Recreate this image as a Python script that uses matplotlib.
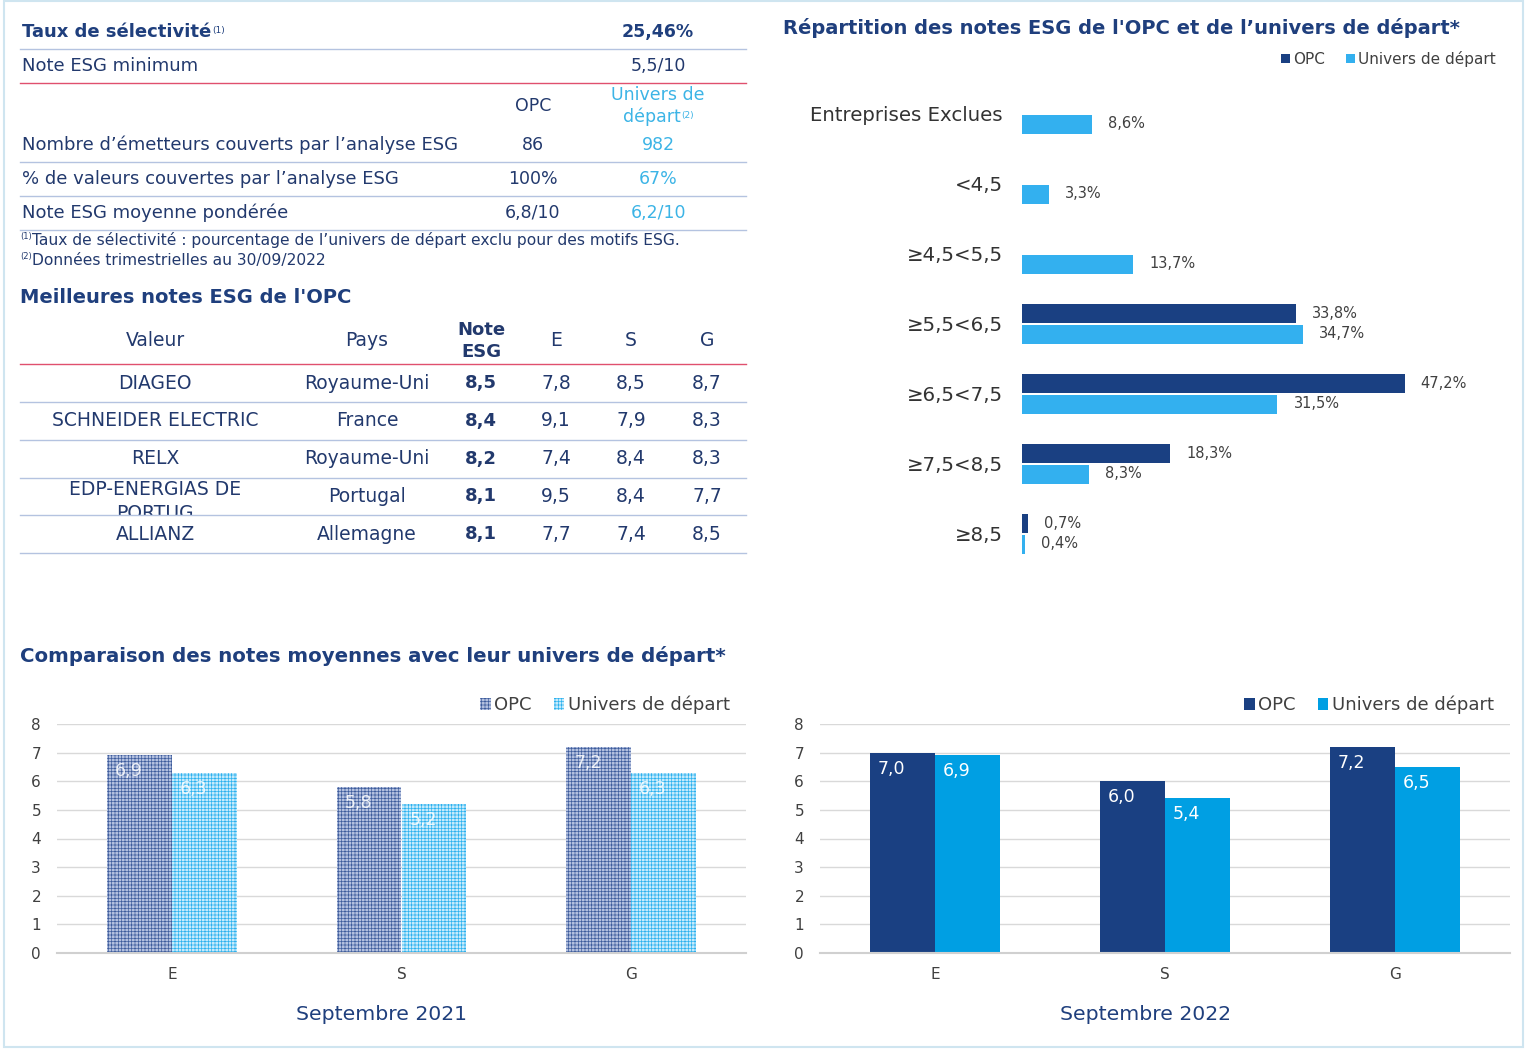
import numpy as np
import matplotlib
matplotlib.use('Agg')
import matplotlib.pyplot as plt
from matplotlib.lines import Line2D
from matplotlib.patches import Rectangle

plt.rcParams['font.family'] = 'DejaVu Sans'
plt.rcParams['hatch.linewidth'] = 0.5

# ---- data ----
sel_rate = '25,46%'
min_note = '5,5/10'
summary_labels = ["Nombre d\u2019émetteurs couverts par l\u2019analyse ESG",
                  "% de valeurs couvertes par l\u2019analyse ESG",
                  "Note ESG moyenne pondérée"]
summary_opc = ['86', '100%', '6,8/10']
summary_univ = ['982', '67%', '6,2/10']
footnotes = ["Taux de sélectivité : pourcentage de l\u2019univers de départ exclu pour des motifs ESG.",
             "Données trimestrielles au 30/09/2022"]

top_cols = ['Valeur', 'Pays', 'Note\nESG', 'E', 'S', 'G']
top_names = ['DIAGEO', 'SCHNEIDER ELECTRIC', 'RELX', 'EDP-ENERGIAS DE', 'ALLIANZ']
top_country = ['Royaume-Uni', 'France', 'Royaume-Uni', 'Portugal', 'Allemagne']
top_note = ['8,5', '8,4', '8,2', '8,1', '8,1']
top_e = ['7,8', '9,1', '7,4', '9,5', '7,7']
top_s = ['8,5', '7,9', '8,4', '8,4', '7,4']
top_g = ['8,7', '8,3', '8,3', '7,7', '8,5']

dist_cats = ['Entreprises Exclues', '<4,5', '\u22654,5<5,5', '\u22655,5<6,5',
             '\u22656,5<7,5', '\u22657,5<8,5', '\u22658,5']
dist_opc = [np.nan, np.nan, np.nan, 33.8, 47.2, 18.3, 0.7]
dist_univ = [8.6, 3.3, 13.7, 34.7, 31.5, 8.3, 0.4]

pillars = ['E', 'S', 'G']
opc_2021 = [6.9, 5.8, 7.2]
univ_2021 = [6.3, 5.2, 6.3]
opc_2022 = [7.0, 6.0, 7.2]
univ_2022 = [6.9, 5.4, 6.5]

# ---- colours ----
NAVY = '#1a4082'
TXT = '#22396d'
TITLE = '#1f3f7d'
LBLUE_TXT = '#3cb4e6'
HBLUE = '#33b0ef'
RBLUE = '#009fe3'
PINK = '#e0506e'
LINE = '#b4c3e0'
GREY = '#404040'

W, H = 1527, 1050
fig = plt.figure(figsize=(W / 100, H / 100), dpi=100)
renderer = fig.canvas.get_renderer()


def fx(x):
    return x / W


def fy(y):
    return 1 - y / H


def txt(x, y, s, size=12.5, color=TXT, weight='normal', ha='left', va='center', **kw):
    return fig.text(fx(x), fy(y), s, fontsize=size, color=color, fontweight=weight,
                    ha=ha, va=va, **kw)


def sup_after(t, s, size=7, color=TXT, dy=-6):
    bb = t.get_window_extent(renderer)
    return fig.text(bb.x1 / W + 0.0005, (bb.y1 + dy) / H, s, fontsize=size, color=color,
                    ha='left', va='top')


def hline(y, x0, x1, color=LINE, lw=1.0, z=5):
    fig.add_artist(Line2D([fx(x0), fx(x1)], [fy(y), fy(y)], transform=fig.transFigure,
                          color=color, lw=lw, zorder=z))


def fmt(v):
    return ('%.1f' % v).replace('.', ',')


# frame
fig.add_artist(Rectangle((fx(4), fy(1047)), fx(1523) - fx(4), (1047 - 1) / H,
                         transform=fig.transFigure, fill=False, ec='#cfe5f0', lw=1.5))

# ---- top-left summary table ----
t = txt(22, 32, 'Taux de sélectivité', size=13, color=TITLE, weight='bold')
sup_after(t, '(1)', size=6.5, color=TITLE, dy=-3)
txt(658, 32, sel_rate, size=12.5, color=TITLE, weight='bold', ha='center')
hline(49, 20, 746)
txt(22, 66, 'Note ESG minimum', size=13)
txt(658, 66, min_note, ha='center')
hline(83, 20, 746, color=PINK)
txt(533, 106, 'OPC', ha='center')
txt(658, 95, 'Univers de', color=LBLUE_TXT, ha='center')
t = txt(652, 117, 'départ', color=LBLUE_TXT, ha='center')
sup_after(t, '(2)', size=6.5, color=LBLUE_TXT, dy=-3)
for i, lab in enumerate(summary_labels):
    y = 145 + 34 * i
    txt(22, y, lab, size=13)
    txt(533, y, summary_opc[i], ha='center')
    txt(658, y, summary_univ[i], color=LBLUE_TXT, ha='center')
    hline(y + 17, 20, 746)
for i, s in enumerate(footnotes):
    y = 240 + 20 * i
    t = txt(20, y - 4, '(%d)' % (i + 1), size=6, va='center')
    bb = t.get_window_extent(renderer)
    fig.text(bb.x1 / W, fy(y), s, fontsize=11.2, color=TXT, ha='left', va='center')

# ---- best ESG scores table ----
txt(20, 298, "Meilleures notes ESG de l'OPC", size=14, color=TITLE, weight='bold')
col_x = [155, 367, 481, 556, 631, 707]
for j, c in enumerate(top_cols):
    if j == 2:
        txt(col_x[j], 330, 'Note', size=13, weight='bold', ha='center')
        txt(col_x[j], 352, 'ESG', size=13, weight='bold', ha='center')
    else:
        txt(col_x[j], 341, c, size=13.5, ha='center')
hline(364, 20, 746, color=PINK)
for i in range(len(top_names)):
    y = 383 + 37.8 * i
    if top_names[i].startswith('EDP'):
        txt(col_x[0], y - 7, top_names[i], size=13.5, ha='center')
        txt(col_x[0], y + 17, 'PORTUG', size=13.5, ha='center')
        # the cell cuts the second line of the name
        fig.add_artist(Rectangle((fx(40), fy(y + 27)), fx(270) - fx(40), 7.5 / H,
                                 transform=fig.transFigure, fc='white', ec='none', zorder=4))
    else:
        txt(col_x[0], y, top_names[i], size=13.5, ha='center')
    txt(col_x[1], y, top_country[i], size=13.5, ha='center')
    txt(col_x[2], y, top_note[i], size=13, weight='bold', ha='center')
    txt(col_x[3], y, top_e[i], size=13.5, ha='center')
    txt(col_x[4], y, top_s[i], size=13.5, ha='center')
    txt(col_x[5], y, top_g[i], size=13.5, ha='center')
    hline(y + 19, 20, 746)

# ---- distribution horizontal bars ----
txt(783, 28, "Répartition des notes ESG de l'OPC et de l\u2019univers de départ*", size=14,
    color=TITLE, weight='bold')
axh = fig.add_axes([fx(1022), fy(568.5), fx(1500) - fx(1022), (568.5 - 78.5) / H])
pos = np.arange(len(dist_cats))
bh = 19 / 70
off = 10.5 / 70
axh.barh(pos - off, dist_opc, bh, color=NAVY, label='OPC')
axh.barh(pos + off, dist_univ, bh, color=HBLUE, label='Univers de départ')
for p, v in zip(pos, dist_opc):
    if not np.isnan(v):
        axh.annotate(fmt(v) + '%', (v, p - off), xytext=(16, 0), textcoords='offset pixels',
                     va='center', ha='left', fontsize=10.5, color=GREY)
for p, v in zip(pos, dist_univ):
    axh.annotate(fmt(v) + '%', (v, p + off), xytext=(16, 0), textcoords='offset pixels',
                 va='center', ha='left', fontsize=10.5, color=GREY)
axh.set_xlim(0, (1500 - 1022) / 8.11)
axh.set_ylim(6.5, -0.5)
axh.set_yticks(pos)
axh.set_yticklabels(dist_cats, fontsize=14.2, color='#333333')
axh.set_xticks([])
axh.tick_params(axis='y', length=0, pad=14)
for sp in axh.spines.values():
    sp.set_visible(False)
axh.legend(loc='center right', bbox_to_anchor=(fx(1496), fy(59)), bbox_transform=fig.transFigure,
           ncol=2, frameon=False, fontsize=11, handlelength=0.6, handleheight=0.6,
           handletextpad=0.2, columnspacing=1.4, labelcolor=GREY, borderaxespad=0, borderpad=0)

# ---- bottom comparison charts ----
txt(20, 656, 'Comparaison des notes moyennes avec leur univers de départ*', size=14.2,
    color=TITLE, weight='bold')


def comp_chart(left, right, opc, univ, hatched, year, year_x, legend_right):
    ax = fig.add_axes([fx(left), fy(953), (right - left) / W, (953 - 724) / H])
    x = np.arange(len(pillars))
    w = 0.283
    if hatched:
        ax.bar(x - w, opc, w, align='edge', facecolor='#b4c1e0', edgecolor='#3d5c9c',
               hatch='+++++', lw=0, label='OPC', zorder=2)
        ax.bar(x, univ, w, align='edge', facecolor='#c6ebfc', edgecolor='#2cb1ee',
               hatch='+++++', lw=0, label='Univers de départ', zorder=2)
        lab_alpha = 0.85
    else:
        ax.bar(x - w, opc, w, align='edge', color=NAVY, label='OPC', zorder=2)
        ax.bar(x, univ, w, align='edge', color=RBLUE, label='Univers de départ', zorder=2)
        lab_alpha = 1.0
    for xi, v in zip(x, opc):
        ax.annotate(fmt(v), (xi - w, v), xytext=(8, -16), textcoords='offset pixels',
                    ha='left', va='center', fontsize=12.5, color='white', alpha=lab_alpha,
                    zorder=3)
    for xi, v in zip(x, univ):
        ax.annotate(fmt(v), (xi, v), xytext=(8, -16), textcoords='offset pixels',
                    ha='left', va='center', fontsize=12.5, color='white', alpha=lab_alpha,
                    zorder=3)
    ax.set_xlim(-0.5, 2.5)
    ax.set_ylim(0, 8)
    ax.set_yticks(range(0, 9))
    ax.set_xticks(x)
    ax.set_xticklabels(pillars)
    ax.tick_params(axis='y', length=0, pad=11.5, labelsize=11, labelcolor=GREY)
    ax.tick_params(axis='x', length=0, pad=10, labelsize=11, labelcolor=GREY)
    ax.grid(axis='y', color='#d9d9d9', lw=1, zorder=0)
    for sp in ['top', 'left', 'right']:
        ax.spines[sp].set_visible(False)
    ax.spines['bottom'].set_color('#d0d0d0')
    ax.spines['bottom'].set_linewidth(1.5)
    ax.legend(loc='center right', bbox_to_anchor=(fx(legend_right), fy(705)),
              bbox_transform=fig.transFigure, ncol=2, frameon=False, fontsize=13,
              handlelength=0.6, handleheight=0.6, handletextpad=0.2, columnspacing=1.2,
              labelcolor=GREY, borderaxespad=0, borderpad=0)
    txt(year_x, 1014, year, size=14.7, color=TITLE, ha='center')
    return ax


comp_chart(57, 746, opc_2021, univ_2021, True, 'Septembre 2021', 382, 730)
comp_chart(820, 1510, opc_2022, univ_2022, False, 'Septembre 2022', 1146, 1494)

fig.savefig('out.png', dpi=100)
